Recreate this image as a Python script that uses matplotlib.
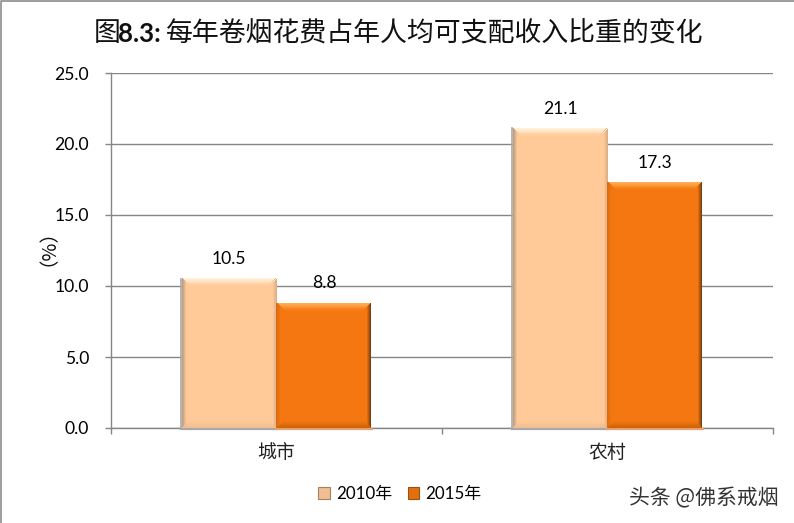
import matplotlib
matplotlib.use("Agg")
import matplotlib.pyplot as plt
import matplotlib.colors as mc
import numpy as np
from matplotlib.patches import Polygon, Patch
from matplotlib.lines import Line2D

categories = ["城市", "农村"]
series_names = ["2010年", "2015年"]
values_2010 = [10.5, 21.1]
values_2015 = [8.8, 17.3]
yticks = [0, 5, 10, 15, 20, 25]

FONT = ["Lato", "Noto Sans CJK SC", "DejaVu Sans"]
CJK = ["Noto Sans CJK SC", "DejaVu Sans"]
plt.rcParams["font.family"] = FONT

W, H = 794, 523
fig = plt.figure(figsize=(W / 100, H / 100), dpi=100, facecolor="white")
ax = fig.add_axes([111 / W, 1 - 428 / H, 662 / W, 355 / H])
ax.set_xlim(-0.5, 1.5)
ax.set_ylim(0, 25)
GRAY = "#868686"

for s in ("top", "right"):
    ax.spines[s].set_visible(False)
for s in ("left", "bottom"):
    ax.spines[s].set_color(GRAY)
    ax.spines[s].set_linewidth(1)
ax.set_axisbelow(True)
ax.yaxis.grid(True, color=GRAY, lw=1)
ax.set_yticks(yticks)
ax.set_yticklabels([f"{v:.1f}" for v in yticks], fontsize=12.6, color="black")
ax.tick_params(axis="y", length=4.3, width=1, color=GRAY, pad=11.5)
ax.set_xticks([-0.5, 0.5, 1.5])
ax.set_xticklabels([])
ax.tick_params(axis="x", length=4.3, width=1, color=GRAY)
for i, c in enumerate(categories):
    ax.annotate(c, (i, 0), xytext=(0, -17.5), textcoords="offset points",
                ha="center", va="center", fontsize=13.6, family=CJK, color="#222222")

ax.text(-0.5 - 73 / 331, 13.4, "（%）", rotation=90, ha="center", va="center",
        fontsize=14, family=CJK, color="#111111")

BW = 0.284
OFF = 0.1435
px = 2 / 662
py = 25 / 355


def mix(a, b, t):
    return tuple(np.array(mc.to_rgb(a)) * (1 - t) + np.array(mc.to_rgb(b)) * t)


def band(pts, col):
    ax.add_patch(Polygon(pts, closed=True, facecolor=col, edgecolor="none", zorder=3.1, antialiased=False))


def bevel(x0, x1, top, face, hi, left, right, low, shadow):
    ax.plot([x0 - px, x0 - px], [-py, top], color=shadow, lw=1.2, zorder=2.9, clip_on=False)
    ax.plot([x0 - px, x1 + px], [-py, -py], color=shadow, lw=1.6, zorder=2.9, clip_on=False)
    ax.bar((x0 + x1) / 2, top, x1 - x0, color=face, edgecolor="none", zorder=3)
    n = 7
    for k in range(n):
        t0, t1 = k / n, (k + 1) / n
        t = (k + 0.5) / n
        a0, a1 = t0 * n * px, t1 * n * px
        b0, b1 = t0 * n * py, t1 * n * py
        band([(x0 + a0, top - b0), (x1 - a0, top - b0), (x1 - a1, top - b1), (x0 + a1, top - b1)],
             mix(hi, face, t ** 1.3))
        band([(x0 + a0, top - b0), (x0 + a1, top - b1), (x0 + a1, b1), (x0 + a0, b0)], mix(left, face, min(1, t * 1.6)))
        band([(x1 - a0, top - b0), (x1 - a1, top - b1), (x1 - a1, b1), (x1 - a0, b0)], mix(right, face, min(1, t * 1.6)))
        band([(x0 + a0, b0), (x1 - a0, b0), (x1 - a1, b1), (x0 + a1, b1)], mix(low, face, t))


for i, (a, b) in enumerate(zip(values_2010, values_2015)):
    bevel(i - OFF - BW / 2, i - OFF + BW / 2, a, "#FFC998", "#FFF2DC", "#B89A7C", "#D6AC84", "#EDBD90", "#A8A8A8")
    bevel(i + OFF - BW / 2, i + OFF + BW / 2, b, "#F47711", "#FFAE55", "#D96A10", "#6E3A10", "#C96208", "#E8A070")
    for x, v in ((i - OFF, a), (i + OFF, b)):
        ax.annotate(f"{v:.1f}", (x, v), xytext=(0, 14.2), textcoords="offset points", ha="center",
                    va="center", fontsize=12.6, color="black", zorder=5)

# title in three runs
ty = 1 - 33.5 / H
fig.text(94 / W, ty, "图", fontsize=19.4, family=CJK, weight="medium", ha="left", va="center", color="#111111")
fig.text(118 / W, ty, "8.3:", fontsize=18.6, family=FONT, weight="bold", ha="left", va="center", color="#111111")
fig.text(166 / W, ty, "每年卷烟花费占年人均可支配收入比重的变化", fontsize=19.4, family=CJK, weight="medium",
         ha="left", va="center", color="#111111")

handles = [Patch(facecolor="#F0BE92", edgecolor="#A88060", lw=0.8),
           Patch(facecolor="#E0700F", edgecolor="#9A5010", lw=0.8)]
leg = fig.legend(handles, series_names, loc="center", bbox_to_anchor=(400 / W, 1 - 494 / H), ncol=2,
                 frameon=False, fontsize=12.2, handlelength=0.7, handleheight=0.7,
                 handletextpad=0.35, columnspacing=0.9, borderpad=0)

fig.text(779 / W, 1 - 498 / H, "头条 @佛系戒烟", fontsize=15, family=CJK, weight="light", ha="right", va="center", color="#333333")

fig.add_artist(Line2D([0.5 / W, 0.5 / W, 1], [0, 1 - 0.5 / H, 1 - 0.5 / H], color="#8C8C8C", lw=1.2,
                      transform=fig.transFigure))
fig.savefig("out.png", dpi=100, facecolor="white")
